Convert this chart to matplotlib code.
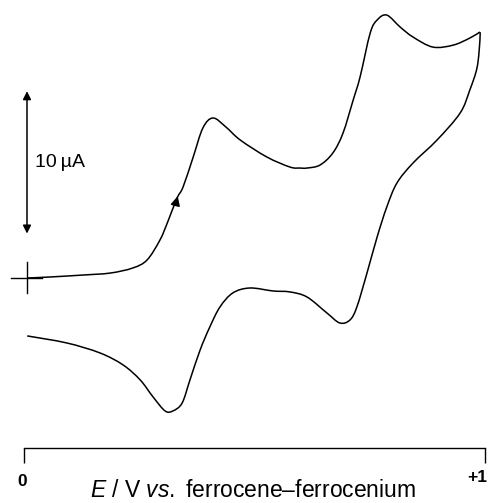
import numpy as np
import matplotlib
matplotlib.use("Agg")
import matplotlib.pyplot as plt
from matplotlib.path import Path
from matplotlib.patches import PathPatch

plt.rcParams['font.family'] = ['Liberation Sans', 'DejaVu Sans']
plt.rcParams['mathtext.fontset'] = 'custom'
plt.rcParams['mathtext.rm'] = 'Liberation Sans'
plt.rcParams['mathtext.it'] = 'Liberation Sans:italic'

# Forward (oxidative) sweep, E in V vs Fc/Fc+, current in uA
fwd_E = [0.007, 0.056, 0.128, 0.187, 0.236, 0.267, 0.295, 0.312, 0.332, 0.345,
         0.367, 0.388, 0.410, 0.438, 0.469, 0.527, 0.577, 0.599, 0.614, 0.642,
         0.670, 0.692, 0.714, 0.729, 0.751, 0.766, 0.787, 0.816, 0.844, 0.887,
         0.931, 0.967, 0.989]
fwd_I = [0.00, 0.07, 0.21, 0.35, 0.71, 1.28, 2.70, 4.00, 5.67, 6.45,
         8.58, 10.64, 11.35, 10.71, 9.79, 8.58, 7.87, 7.80, 7.80, 8.01,
         8.87, 10.28, 12.62, 14.26, 17.38, 18.30, 18.65, 17.80, 17.09, 16.38,
         16.52, 17.02, 17.45]

# Reverse sweep
rev_E = [0.989, 0.989, 0.983, 0.967, 0.946, 0.896, 0.844, 0.809, 0.787, 0.766,
         0.744, 0.722, 0.707, 0.685, 0.657, 0.614, 0.577, 0.540, 0.490, 0.453,
         0.425, 0.403, 0.382, 0.360, 0.343, 0.323, 0.306, 0.280, 0.252, 0.215,
         0.165, 0.093, 0.007]
rev_I = [17.45, 16.88, 14.96, 13.33, 11.70, 9.79, 8.16, 6.74, 5.04, 2.91,
         0.35, -2.06, -2.98, -3.19, -2.48, -1.35, -0.99, -0.92, -0.71, -1.06,
         -2.06, -3.48, -5.11, -7.23, -8.87, -9.43, -9.43, -8.44, -7.23, -6.17,
         -5.32, -4.61, -4.11]


def smooth_path(xs, ys):
    # Catmull-Rom through the read points, drawn as cubic bezier segments
    p = np.column_stack([xs, ys])
    ext = np.vstack([p[0], p, p[-1]])
    verts = [p[0]]
    codes = [Path.MOVETO]
    for i in range(1, len(ext) - 2):
        c1 = ext[i] + (ext[i + 1] - ext[i - 1]) / 6
        c2 = ext[i + 1] - (ext[i + 2] - ext[i]) / 6
        verts += [c1, c2, ext[i + 1]]
        codes += [Path.CURVE4] * 3
    return Path(verts, codes)


fig = plt.figure(figsize=(4.88, 5.03), dpi=100)
ax = fig.add_axes([24 / 488, 55 / 503, 461 / 488, 448 / 503])
ax.set_xlim(0, 1)
ax.set_ylim(-12.06, 19.72)

for xs, ys in [(fwd_E, fwd_I), (rev_E, rev_I)]:
    ax.add_patch(PathPatch(smooth_path(xs, ys), facecolor='none',
                           edgecolor='black', lw=1.1, joinstyle='round'))

# direction arrow on forward sweep
ax.annotate('', xy=(0.335, 6.0), xytext=(0.327, 5.0),
            arrowprops=dict(arrowstyle='-|>', color='black', lw=1.1,
                            mutation_scale=14))

# 10 uA scale bar
ax.annotate('', xy=(0.0065, 13.25), xytext=(0.0065, 3.15),
            arrowprops=dict(arrowstyle='<|-|>', color='black', lw=1.1,
                            mutation_scale=12, shrinkA=0, shrinkB=0))
ax.text(0.024, 8.2, '10\u2009\u00b5A', fontsize=14, va='center', ha='left')

# zero-current origin marker
ax.plot([-0.028, 0.04], [0, 0], color='black', lw=1.0, clip_on=False)
ax.plot([0.0065, 0.0065], [1.13, -1.06], color='black', lw=1.0, clip_on=False)

for s in ['left', 'top', 'right']:
    ax.spines[s].set_visible(False)
ax.spines['bottom'].set_linewidth(1.0)
ax.set_yticks([])
ax.set_xticks([0, 1])
ax.set_xticklabels([])
ax.tick_params(axis='x', direction='out', length=11, width=1.0)

fig.text(22 / 488, 1 - 481 / 503, '0', fontsize=12.5, fontweight='bold',
         ha='center', va='center')
fig.text(487 / 488, 1 - 477 / 503, '+1', fontsize=12.5, fontweight='bold',
         ha='right', va='center')
fig.text(253 / 488, 1 - 497 / 503, '$E$ / V $vs.$ ferrocene\u2013ferrocenium',
         fontsize=16.5, ha='center', va='baseline')

fig.savefig('out.png', dpi=100)
